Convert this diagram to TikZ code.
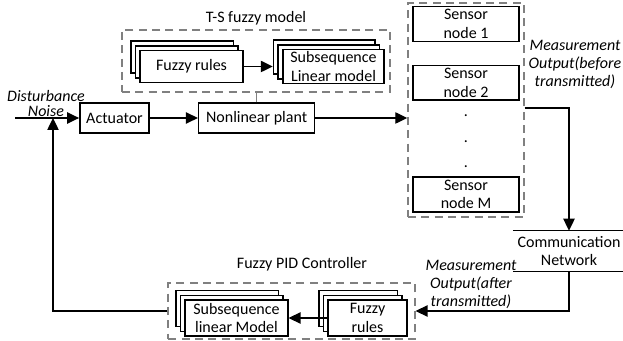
\documentclass[tikz,border=0pt]{standalone}
\usepackage{fontspec}
\setmainfont{Carlito}
\usetikzlibrary{arrows.meta}
\usetikzlibrary{positioning}
\usetikzlibrary{shadows}

\begin{document}
\begin{tikzpicture}[x=0.75pt,y=-0.75pt,
  font=\fontsize{12}{14}\selectfont,
  blk/.style={draw, line width=1.1pt, align=center, inner sep=0pt, fill=white},
  stack/.style={blk,
    copy shadow={shadow xshift=-7pt, shadow yshift=7pt, line width=1.1pt},
    copy shadow={shadow xshift=-3.5pt, shadow yshift=3.5pt, line width=1.1pt}},
  grp/.style={draw=gray, dash pattern=on 6pt off 4pt, line width=1.1pt, inner sep=0pt},
  line/.style={line width=1pt},
  arr/.style={-{Triangle[length=9pt,width=8.5pt]}, line width=1pt},
  note/.style={font=\fontsize{12}{13.5}\selectfont\itshape, align=center}]

\useasboundingbox (0,0) rectangle (623,341);

\coordinate (in) at (15,118);
\coordinate (sum) at (53,118);

\node[blk, minimum width=52pt, minimum height=22.5pt] (act) at (114.5,118) {Actuator};
\node[blk, minimum width=87pt, minimum height=22.5pt, right=36pt of act] (plant) {Nonlinear plant};

\node[note] (dist) at (46,96) {Disturbance};
\node[note] (noise) at (46,111) {Noise};

\node[grp, minimum width=201pt, minimum height=46.5pt] (ts) at (256,61) {};
\node (tslbl) at (256,18) {T-S fuzzy model};
\node[stack, minimum width=77pt, minimum height=24pt] (tsrule) at (191.5,66.5) {Fuzzy rules};
\node[stack, minimum width=76pt, minimum height=25.5pt] (tssub) at (333.5,66.5) {Subsequence\\Linear model};

\node[grp, minimum width=87pt, minimum height=160.5pt] (sens) at (466,110) {};
\node[blk, minimum width=79.5pt, minimum height=26pt] (s1) at (466,24) {Sensor\\node 1};
\node[blk, minimum width=79.5pt, minimum height=26pt, below=17pt of s1] (s2) {Sensor\\node 2};
\foreach \y/\n in {116/d1,142/d2,167/d3}
  \node (\n) at (466,\y) {.};
\node[blk, minimum width=79.5pt, minimum height=26pt] (sM) at (466,194.5) {Sensor\\node M};

\node[note] (mbefore) at (575,64) {Measurement\\Output(before\\transmitted)};

\node[minimum width=81pt, minimum height=30pt, align=center] (cn) at (569,251) {Communication\\Network};
\draw[line] (cn.north west) -- (cn.north east);
\draw[line] (cn.south west) -- (cn.south east);

\node[note] (mafter) at (471,284) {Measurement\\Output(after\\transmitted)};

\node[grp, minimum width=185pt, minimum height=42pt] (pid) at (291.5,311) {};
\node (pidlbl) at (302,264) {Fuzzy PID Controller};
\node[stack, minimum width=77pt, minimum height=27pt] (pidsub) at (236.5,318) {Subsequence\\linear Model};
\node[stack, minimum width=59pt, minimum height=27pt] (pidrule) at (367.5,318) {Fuzzy\\rules};

\draw[arr] (in) -- (act);
\draw[arr] (act) -- (plant);
\draw[arr] (plant.east) -- (plant.east -| sens.west);
\draw[line, gray] (plant.north) -- (plant.north |- ts.south);
\draw[arr] (tsrule) -- ([xshift=-7pt]tssub.west);
\draw[arr] ([yshift=1.5pt]sens.east) -| (cn.north);
\draw[arr] (cn.south) |- (pid.east);
\draw[arr] (pidrule) -- (pidsub);
\draw[arr] (pid.west) -| (sum);

\end{tikzpicture}
\end{document}
